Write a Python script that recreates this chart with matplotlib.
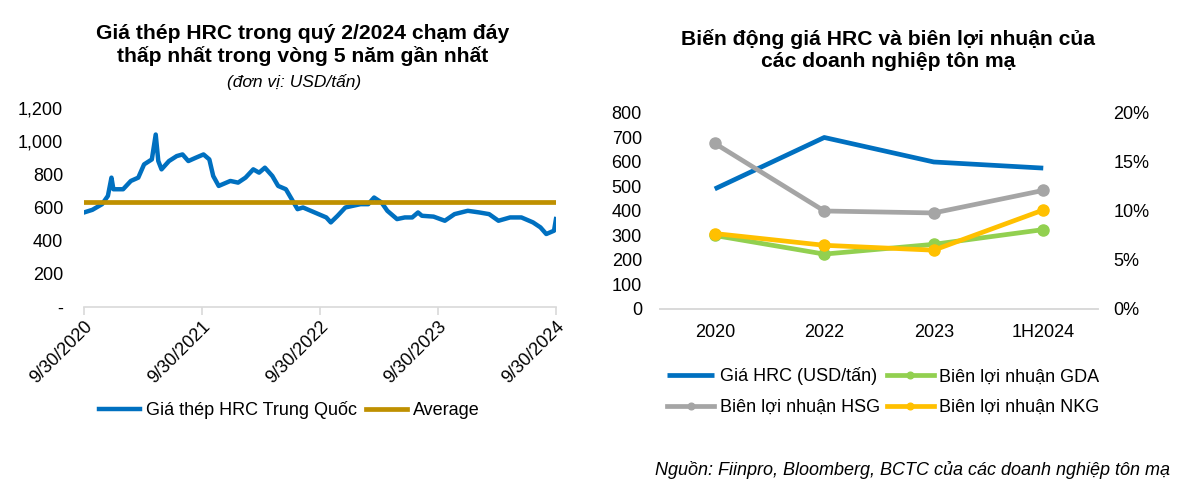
import numpy as np
import pandas as pd
import matplotlib
matplotlib.use('Agg')
import matplotlib.pyplot as plt
import matplotlib.dates as mdates
from matplotlib.ticker import FuncFormatter, PercentFormatter

plt.rcParams['font.family'] = ['Liberation Sans', 'DejaVu Sans']

# --- left chart: China HRC price (USD/t)
hrc_dates = [
    '2020-09-30', '2020-10-26', '2020-11-25', '2020-12-13', '2020-12-24', '2020-12-30',
    '2021-01-29', '2021-02-22', '2021-03-17', '2021-04-04', '2021-04-28', '2021-05-10',
    '2021-05-18', '2021-05-28', '2021-06-20', '2021-07-14', '2021-08-01', '2021-08-19',
    '2021-09-11', '2021-10-05', '2021-10-23', '2021-11-04', '2021-11-21', '2021-12-27',
    '2022-01-20', '2022-02-12', '2022-03-08', '2022-03-26', '2022-04-13', '2022-05-06',
    '2022-05-24', '2022-06-17', '2022-07-05', '2022-07-23', '2022-08-09', '2022-09-02',
    '2022-09-26', '2022-10-20', '2022-11-03', '2022-11-24', '2022-12-18', '2023-01-10',
    '2023-02-03', '2023-02-27', '2023-03-17', '2023-04-09', '2023-04-27', '2023-05-27',
    '2023-06-20', '2023-07-13', '2023-07-31', '2023-08-12', '2023-09-17', '2023-10-22',
    '2023-11-21', '2024-01-01', '2024-02-06', '2024-03-07', '2024-04-05', '2024-05-11',
    '2024-06-15', '2024-07-21', '2024-08-13', '2024-08-31', '2024-09-12', '2024-09-24',
    '2024-09-30',
]
hrc_price = [
    570, 586, 620, 670, 780, 710,
    710, 760, 780, 860, 890, 1040,
    880, 830, 880, 910, 920, 880,
    900, 920, 890, 790, 730, 760,
    750, 780, 830, 810, 840, 790,
    730, 710, 650, 590, 600, 580,
    560, 540, 510, 550, 600, 610,
    620, 620, 660, 630, 580, 530,
    540, 540, 570, 550, 545, 520,
    560, 580, 570, 560, 520, 540,
    540, 510, 480, 440, 450, 460,
    530,
]
hrc_average = 633
left_ticks = ['2020-09-30', '2021-09-30', '2022-09-30', '2023-09-30', '2024-09-30']

# --- right chart: HRC price vs. margins of galvanised steel makers
years = ['2020', '2022', '2023', '1H2024']
hrc_year = [490, 700, 600, 575]
margin_gda = [0.075, 0.056, 0.066, 0.081]
margin_hsg = [0.169, 0.100, 0.098, 0.121]
margin_nkg = [0.077, 0.065, 0.060, 0.101]

BLUE = '#0070C0'
GOLD = '#BF9000'
GREEN = '#92D050'
GRAY = '#A5A5A5'
YELLOW = '#FFC000'
AXIS = '#D9D9D9'
FS = 13

fig = plt.figure(figsize=(12, 5.03), dpi=100)

# left panel
ax = fig.add_axes([0.07, 0.3897, 0.3933, 0.3956])
dates = pd.to_datetime(hrc_dates)
ax.plot(dates, hrc_price, color=BLUE, lw=3.2, solid_joinstyle='round',
        label='Giá thép HRC Trung Quốc')
ax.plot([dates[0], dates[-1]], [hrc_average, hrc_average], color=GOLD, lw=3.4,
        label='Average')
ax.set_xlim(pd.Timestamp(left_ticks[0]), pd.Timestamp(left_ticks[-1]))
ax.set_ylim(0, 1200)
ax.set_yticks(range(0, 1201, 200))
ax.yaxis.set_major_formatter(FuncFormatter(lambda v, p: '-' if v == 0 else f'{v:,.0f}'))
ax.set_xticks(pd.to_datetime(left_ticks))
ax.xaxis.set_major_formatter(mdates.DateFormatter('%-m/%d/%Y'))
for s in ['top', 'right', 'left']:
    ax.spines[s].set_visible(False)
ax.spines['bottom'].set_color(AXIS)
ax.spines['bottom'].set_linewidth(1.2)
ax.tick_params(axis='y', length=0, labelsize=FS, pad=15)
ax.tick_params(axis='x', length=6, color=AXIS, width=1.2, labelsize=FS, pad=2)
plt.setp(ax.get_xticklabels(), rotation=45, ha='right', rotation_mode='anchor')
ax.legend(loc='upper center', bbox_to_anchor=(0.435, -0.39), ncol=2, frameon=False,
          fontsize=FS, handlelength=2.3, handletextpad=0.3, columnspacing=0.5)

fig.text(0.252, 0.91, 'Giá thép HRC trong quý 2/2024 chạm đáy\nthấp nhất trong vòng 5 năm gần nhất',
         ha='center', va='center', fontsize=15.2, fontweight='bold', linespacing=1.2)
fig.text(0.245, 0.837, '(đơn vị: USD/tấn)', ha='center', va='center', fontsize=12.5,
         style='italic')

# right panel
ax2 = fig.add_axes([0.55, 0.3857, 0.365, 0.3897])
x = np.arange(len(years))
l1, = ax2.plot(x, hrc_year, color=BLUE, lw=3.4, solid_capstyle='butt',
               label='Giá HRC (USD/tấn)')
ax2.set_ylim(0, 800)
ax2.set_yticks(range(0, 801, 100))
ax2.set_xlim(-0.5, len(years) - 0.5)
ax2.set_xticks(x)
ax2.set_xticklabels(years)
ax3 = ax2.twinx()
l2, = ax3.plot(x, margin_gda, color=GREEN, lw=3.4, marker='o', ms=8, label='Biên lợi nhuận GDA')
l3, = ax3.plot(x, margin_hsg, color=GRAY, lw=3.4, marker='o', ms=8, label='Biên lợi nhuận HSG')
l4, = ax3.plot(x, margin_nkg, color=YELLOW, lw=3.4, marker='o', ms=8, label='Biên lợi nhuận NKG')
ax3.set_ylim(0, 0.20)
ax3.set_yticks(np.arange(0, 0.201, 0.05))
ax3.yaxis.set_major_formatter(PercentFormatter(1.0, decimals=0))
for a in (ax2, ax3):
    for s in ['top', 'right', 'left']:
        a.spines[s].set_visible(False)
    a.spines['bottom'].set_color(AXIS)
    a.spines['bottom'].set_linewidth(1.2)
    a.tick_params(length=0, labelsize=FS)
ax2.tick_params(axis='y', pad=13)
ax3.tick_params(axis='y', pad=11)
ax2.tick_params(axis='x', pad=11)
ax2.legend([l1, l3, l2, l4], [l.get_label() for l in (l1, l3, l2, l4)],
           loc='upper center', bbox_to_anchor=(0.51, -0.215), ncol=2, frameon=False,
           fontsize=FS, handlelength=2.6, handletextpad=0.3, columnspacing=0.4,
           labelspacing=0.75, markerscale=0.6)

fig.text(0.74, 0.9, 'Biến động giá HRC và biên lợi nhuận của\ncác doanh nghiệp tôn mạ',
         ha='center', va='center', fontsize=15.2, fontweight='bold', linespacing=1.2)

fig.text(0.975, 0.065, 'Nguồn: Fiinpro, Bloomberg, BCTC của các doanh nghiệp tôn mạ',
         ha='right', va='center', fontsize=13, style='italic')

fig.savefig('out.png', dpi=100, facecolor='white')
